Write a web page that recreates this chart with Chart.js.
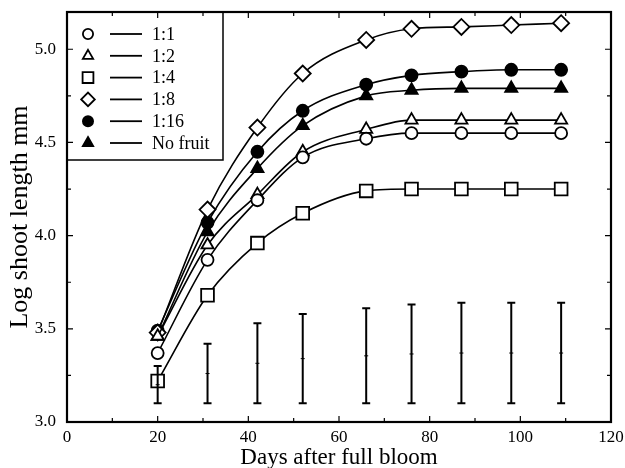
<!DOCTYPE html>
<html>
<head>
<meta charset="utf-8">
<script src="https://cdn.jsdelivr.net/npm/chart.js@4/dist/chart.umd.min.js"></script>
<style>
  html, body { margin: 0; padding: 0; background: #fff; }
</style>
</head>
<body>
<canvas id="chart" width="625" height="468"></canvas>
<script>
// values
const days = [20, 31, 42, 52, 66, 76, 87, 98, 109];
const ratio1_1 = [3.37, 3.87, 4.19, 4.42, 4.52, 4.55, 4.55, 4.55, 4.55];
const ratio1_2 = [3.46, 3.95, 4.22, 4.45, 4.57, 4.62, 4.62, 4.62, 4.62];
const ratio1_4 = [3.22, 3.68, 3.96, 4.12, 4.24, 4.25, 4.25, 4.25, 4.25];
const ratio1_8 = [3.48, 4.14, 4.58, 4.87, 5.05, 5.11, 5.12, 5.13, 5.14];
const ratio1_16 = [3.49, 4.07, 4.45, 4.67, 4.81, 4.86, 4.88, 4.89, 4.89];
const noFruit = [3.46, 4.02, 4.36, 4.59, 4.75, 4.78, 4.79, 4.79, 4.79];
const errLow = [3.10, 3.10, 3.10, 3.10, 3.10, 3.10, 3.10, 3.10, 3.10];
const errHigh = [3.30, 3.42, 3.53, 3.58, 3.61, 3.63, 3.64, 3.64, 3.64];
const xTicks = [0, 20, 40, 60, 80, 100, 120];
const yTicks = [3.0, 3.5, 4.0, 4.5, 5.0];
const xMinor = [10, 30, 50, 70, 90, 110];
const yMinor = [3.25, 3.75, 4.25, 4.75];

const serif = '"Liberation Serif", "DejaVu Serif", serif';

function series(label, data, style, filled, radius) {
    return {
        label, data: days.map((d, i) => ({ x: d, y: data[i] })),
        borderColor: '#000', borderWidth: 1.6,
        pointStyle: style, pointRadius: radius, pointHoverRadius: radius,
        pointBorderColor: '#000', pointBorderWidth: 1.8,
        pointBackgroundColor: filled ? '#000' : '#fff',
        cubicInterpolationMode: 'monotone', fill: false
    };
}

function noPad(s) {
    s.paddingTop = 0; s.paddingBottom = 0;
    s.paddingLeft = 0; s.paddingRight = 0;
}

// error bars drawn from errLow / errHigh through the scales
const errorBars = {
    id: 'errorBars',
    afterDatasetsDraw(chart) {
        const { ctx, scales: { x, y } } = chart;
        ctx.save();
        ctx.strokeStyle = '#000';
        days.forEach((d, i) => {
            const px = x.getPixelForValue(d);
            const top = y.getPixelForValue(errHigh[i]);
            const bot = y.getPixelForValue(errLow[i]);
            ctx.lineWidth = 2;
            ctx.beginPath();
            ctx.moveTo(px, top); ctx.lineTo(px, bot);
            ctx.moveTo(px - 4, top); ctx.lineTo(px + 4, top);
            ctx.moveTo(px - 4, bot); ctx.lineTo(px + 4, bot);
            ctx.stroke();
            const mid = y.getPixelForValue((errHigh[i] + errLow[i]) / 2);
            ctx.lineWidth = 1;
            ctx.beginPath();
            ctx.moveTo(px - 2, mid); ctx.lineTo(px + 2, mid);
            ctx.stroke();
        });
        ctx.restore();
    }
};

// legend box inside the plot
const boxLegend = {
    id: 'boxLegend',
    afterDraw(chart) {
        const { ctx, chartArea } = chart;
        const left = chartArea.left, top = chartArea.top;
        ctx.save();
        ctx.fillStyle = '#fff';
        ctx.fillRect(left, top, 156, 148);
        ctx.strokeStyle = '#000';
        ctx.lineWidth = 1.5;
        ctx.strokeRect(left, top, 156, 148);
        ctx.font = '18px ' + serif;
        ctx.textBaseline = 'middle';
        chart.data.datasets.forEach((ds, i) => {
            const yy = top + 22 + i * 21.8;
            ctx.fillStyle = ds.pointBackgroundColor;
            ctx.strokeStyle = '#000';
            ctx.lineWidth = 1.8;
            Chart.helpers.drawPoint(ctx, {
                pointStyle: ds.pointStyle, radius: ds.pointRadius * 0.85, borderWidth: 1.8
            }, left + 21, yy);
            ctx.beginPath();
            ctx.lineWidth = 1.8;
            ctx.moveTo(left + 43, yy); ctx.lineTo(left + 75, yy);
            ctx.stroke();
            ctx.fillStyle = '#000';
            ctx.fillText(ds.label, left + 85, yy + 1);
        });
        ctx.restore();
    }
};

// frame and inward ticks on all four sides
const frame = {
    id: 'frame',
    afterDraw(chart) {
        const { ctx, chartArea: a, scales: { x, y } } = chart;
        ctx.save();
        ctx.strokeStyle = '#000';
        ctx.lineWidth = 1.2;
        ctx.beginPath();
        xTicks.concat(xMinor).forEach(v => {
            const len = xTicks.includes(v) ? 6 : 4;
            const px = x.getPixelForValue(v);
            ctx.moveTo(px, a.bottom); ctx.lineTo(px, a.bottom - len);
            ctx.moveTo(px, a.top); ctx.lineTo(px, a.top + len);
        });
        yTicks.concat(yMinor).forEach(v => {
            const len = yTicks.includes(v) ? 6 : 4;
            const py = y.getPixelForValue(v);
            ctx.moveTo(a.left, py); ctx.lineTo(a.left + len, py);
            ctx.moveTo(a.right, py); ctx.lineTo(a.right - len, py);
        });
        ctx.stroke();
        ctx.lineWidth = 2.2;
        ctx.strokeRect(a.left, a.top, a.right - a.left, a.bottom - a.top);
        ctx.restore();
    }
};

new Chart(document.getElementById('chart'), {
    type: 'line',
    data: {
        datasets: [
            series('1:1', ratio1_1, 'circle', false, 6),
            series('1:2', ratio1_2, 'triangle', false, 7),
            series('1:4', ratio1_4, 'rect', false, 9),
            series('1:8', ratio1_8, 'rectRot', false, 8),
            series('1:16', ratio1_16, 'circle', true, 6),
            series('No fruit', noFruit, 'triangle', true, 7)
        ]
    },
    options: {
        responsive: false,
        animation: false,
        layout: { padding: { top: 12, right: 14, left: 0, bottom: 0 } },
        plugins: { legend: { display: false }, tooltip: { enabled: false } },
        scales: {
            x: {
                type: 'linear', min: 0, max: 120,
                afterBuildTicks: s => { s.ticks = xTicks.map(v => ({ value: v })); },
                afterFit: s => { s.height = 46; noPad(s); },
                grid: { display: false, drawTicks: false },
                border: { display: false },
                ticks: { color: '#000', padding: 5, font: { family: serif, size: 17 } },
                title: { display: true, text: 'Days after full bloom', color: '#000',
                         padding: { top: 0, bottom: -4 }, font: { family: serif, size: 23 } }
            },
            y: {
                type: 'linear', min: 3.0, max: 5.2,
                afterBuildTicks: s => { s.ticks = yTicks.map(v => ({ value: v })); },
                afterFit: s => { s.width = 67; noPad(s); },
                grid: { display: false, drawTicks: false },
                border: { display: false },
                ticks: { color: '#000', padding: 11, font: { family: serif, size: 17 },
                         callback: v => v.toFixed(1) },
                title: { display: true, text: 'Log shoot length mm', color: '#000',
                         padding: { top: 5, bottom: 0 }, font: { family: serif, size: 26 } }
            }
        }
    },
    plugins: [errorBars, boxLegend, frame]
});
</script>
</body>
</html>
